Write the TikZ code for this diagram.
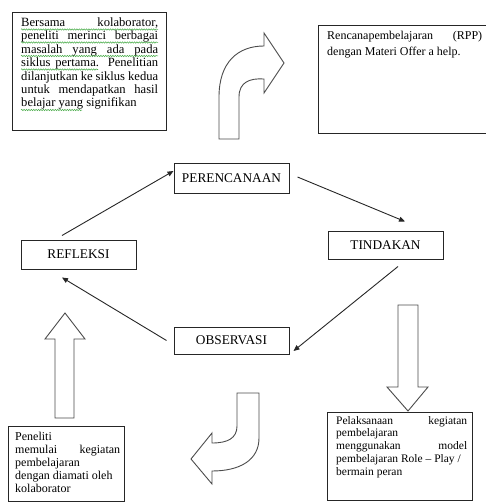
\documentclass[tikz,border=0pt]{standalone}
\usepackage{fontspec}
\setmainfont{Liberation Serif}
\usetikzlibrary{arrows.meta,decorations.pathmorphing}
\newcommand\bodyfont{\fontsize{12}{13.4}\selectfont}
\newdimen\bw
\newcommand\myJ[1]{\hbox to \bw{\spaceskip=.25em plus 1fil minus .12em\relax #1}}
\newcommand\myL[1]{\hbox{#1}}
\definecolor{spell}{RGB}{70,170,70}
\tikzset{
  box/.style={draw=black!85, line width=1.2pt, anchor=north west, inner sep=0},
  lbl/.style={draw=black!85, line width=1pt, inner sep=0, minimum width=115pt, font=\fontsize{13.3}{15}\selectfont},
  txt/.style={anchor=base west, inner sep=0, font=\bodyfont},
  arr/.style={draw=black!85, line width=0.9pt, -{Triangle[length=6pt,width=5pt]}},
  blk/.style={draw=black!70, line width=0.9pt, fill=white, line join=miter},
  squig/.style={draw=spell, line width=0.5pt, decorate, decoration={snake, amplitude=0.7pt, segment length=2.4pt}}
}
\begin{document}
\begin{tikzpicture}[x=1pt,y=-1pt]
\useasboundingbox (0,0) rectangle (485,503);

% text boxes
\node[box, minimum width=154pt, minimum height=118pt] (b1) at (12,12) {};
\node[box, minimum width=168pt, minimum height=108pt] (b2) at (318,25) {};
\node[box, minimum width=116pt, minimum height=75pt] (b3) at (8,426) {};
\node[box, minimum width=145pt, minimum height=88pt] (b4) at (327,412) {};

\node[txt, font=\fontsize{12.6}{13.4}\selectfont] (t1) at (21,26.5) {\vtop{\bw=137pt\baselineskip=13.4pt
  \myJ{Bersama kolaborator,}
  \myJ{peneliti merinci berbagai}
  \myJ{masalah yang ada pada}
  \myJ{siklus pertama. Penelitian}
  \myJ{dilanjutkan ke siklus kedua}
  \myJ{untuk mendapatkan hasil}
  \myL{belajar yang signifikan}}};

\node[txt] (t2) at (327,40) {\vtop{\bw=155pt\baselineskip=15.5pt
  \myJ{Rencanapembelajaran (RPP)}
  \myL{dengan Materi Offer a help.}}};

\node[txt] (t3) at (15,440.5) {\vtop{\bw=105pt\baselineskip=13pt
  \myL{Peneliti}
  \myJ{memulai kegiatan}
  \myL{pembelajaran}
  \myL{dengan diamati oleh}
  \myL{kolaborator}}};

\node[txt, font=\fontsize{11.5}{12.8}\selectfont] (t4) at (336,424) {\vtop{\bw=131pt\baselineskip=12.8pt
  \myJ{Pelaksanaan kegiatan}
  \myL{pembelajaran}
  \myJ{menggunakan model}
  \myL{pembelajaran Role -- Play /}
  \myL{bermain peran}}};

% spell-check squiggles
\draw[squig] (21,29.5) -- (158,29.5);
\draw[squig] (21,42.5) -- (158,42.5);
\draw[squig] (21,56) -- (158,56);
\draw[squig] (21,69.5) -- (98,69.5);
\draw[squig] (21,110) -- (82,110);

% cycle labels
\node[lbl, minimum height=30pt] (per) at (231.5,178) {PERENCANAAN};
\node[lbl, minimum height=28pt] (tin) at (385.5,245) {TINDAKAN};
\node[lbl, minimum height=29pt] (ref) at (78.5,254.5) {REFLEKSI};
\node[lbl, minimum height=27pt] (obs) at (231.5,340.5) {OBSERVASI};

% cycle arrows
\draw[arr] ([xshift=-16.5pt,yshift=4pt]ref.north) -- ([yshift=7pt]per.west);
\draw[arr] ([xshift=8pt,yshift=1pt]per.east) -- ([xshift=19.5pt,yshift=9pt]tin.north);
\draw[arr] ([xshift=12.5pt,yshift=-7pt]tin.south) -- ([xshift=4pt,yshift=-10.5pt]obs.east);
\draw[arr] ([xshift=-7pt]obs.west) -- ([xshift=-16.5pt,yshift=-8pt]ref.south);

% block arrows
\draw[blk] (55,418) -- (55,339) -- (45,339) -- (65,313) -- (85,339) -- (74,339) -- (74,418) -- cycle;
\draw[blk] (398,305) -- (398,387) -- (387,387) -- (408,411) -- (428,387) -- (418,387) -- (418,305) -- cycle;
\draw[blk] (219,139) -- (219,97) .. controls (219,62) and (238,46) .. (264,46) -- (264,33) -- (284,63) -- (264,93) -- (264,79) .. controls (250,78) and (239,82) .. (239,97) -- (239,139) -- cycle;
\draw[blk] (237,393) -- (259,393) -- (259,438) .. controls (259,460) and (240,471) .. (212,471) -- (212,484) -- (191,459) -- (212,433) -- (212,443) .. controls (228,443) and (237,438) .. (237,426) -- cycle;
\end{tikzpicture}
\end{document}
